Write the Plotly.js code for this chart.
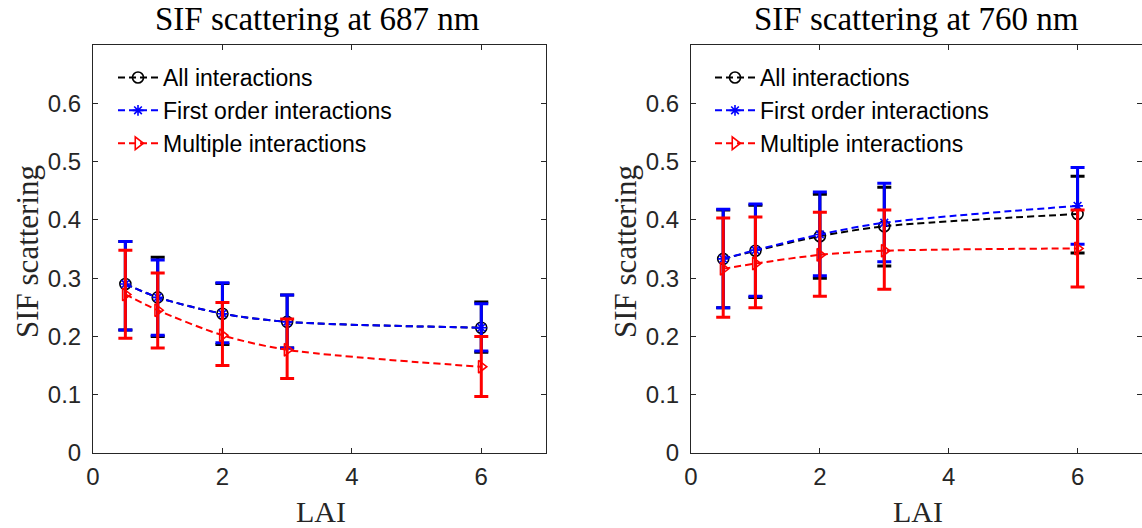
<!DOCTYPE html>
<html>
<head>
<meta charset="utf-8">
<script src="https://cdn.plot.ly/plotly-3.0.1.min.js"></script>
<style>html,body{margin:0;padding:0;background:#fff;}#chart{width:1142px;height:528px;}</style>
</head>
<body>
<div id="chart"></div>
<script>
// LAI values
const lai = [0.5, 1, 2, 3, 6];
const seriesNames = ['All interactions', 'First order interactions', 'Multiple interactions'];
const panelTitles = ['SIF scattering at 687 nm', 'SIF scattering at 760 nm'];
const xTitle = 'LAI';
const yTitle = 'SIF scattering';
const xTicks = [0, 2, 4, 6];
const yTicks = [0, 0.1, 0.2, 0.3, 0.4, 0.5, 0.6];

// 687 nm panel
const all687 = [0.290, 0.267, 0.239, 0.225, 0.215];
const all687Upper = [0.363, 0.336, 0.291, 0.271, 0.259];
const all687Lower = [0.211, 0.200, 0.186, 0.180, 0.173];
const first687 = [0.290, 0.267, 0.239, 0.225, 0.215];
const first687Upper = [0.363, 0.331, 0.292, 0.271, 0.256];
const first687Lower = [0.211, 0.202, 0.189, 0.180, 0.175];
const multi687 = [0.272, 0.245, 0.202, 0.177, 0.148];
const multi687Upper = [0.348, 0.309, 0.258, 0.230, 0.200];
const multi687Lower = [0.197, 0.180, 0.150, 0.128, 0.097];

// 760 nm panel
const all760 = [0.333, 0.347, 0.372, 0.389, 0.410];
const all760Upper = [0.417, 0.425, 0.444, 0.456, 0.475];
const all760Lower = [0.249, 0.267, 0.300, 0.321, 0.343];
const first760 = [0.333, 0.348, 0.375, 0.395, 0.424];
const first760Upper = [0.418, 0.427, 0.448, 0.463, 0.490];
const first760Lower = [0.249, 0.269, 0.304, 0.328, 0.358];
const multi760 = [0.316, 0.325, 0.340, 0.347, 0.351];
const multi760Upper = [0.403, 0.405, 0.413, 0.417, 0.417];
const multi760Lower = [0.233, 0.249, 0.269, 0.281, 0.285];

const colors = ['#000000', '#0000ff', '#ff0000'];
const symbols = ['circle-open', 'asterisk-open', 'triangle-right-open'];

function mk(name, idx, y, up, lo, xa, ya, leg) {
  return {
    type: 'scatter', mode: 'lines+markers', name: name,
    x: lai, y: y, xaxis: xa, yaxis: ya, legend: leg,
    line: {color: colors[idx], width: 2, dash: '7px,4px', shape: 'spline', smoothing: 0.8},
    marker: {symbol: symbols[idx], size: idx === 1 ? 9 : 11, color: colors[idx], line: {color: colors[idx], width: 1.6}},
    error_y: {type: 'data', symmetric: false,
      array: up.map((v, i) => v - y[i]), arrayminus: y.map((v, i) => v - lo[i]),
      color: colors[idx], thickness: 3, width: 7},
    legendgroup: leg + idx
  };
}

const data = [
  mk(seriesNames[0], 0, all687, all687Upper, all687Lower, 'x', 'y', 'legend'),
  mk(seriesNames[1], 1, first687, first687Upper, first687Lower, 'x', 'y', 'legend'),
  mk(seriesNames[2], 2, multi687, multi687Upper, multi687Lower, 'x', 'y', 'legend'),
  mk(seriesNames[0], 0, all760, all760Upper, all760Lower, 'x2', 'y2', 'legend2'),
  mk(seriesNames[1], 1, first760, first760Upper, first760Lower, 'x2', 'y2', 'legend2'),
  mk(seriesNames[2], 2, multi760, multi760Upper, multi760Lower, 'x2', 'y2', 'legend2')
];

const W = 1142, H = 528;
const axCommon = {
  showgrid: false, zeroline: false, ticks: 'inside', ticklen: 5, tickwidth: 1,
  tickcolor: '#262626', linecolor: '#262626', linewidth: 1, mirror: 'ticks', showline: true,
  tickfont: {family: 'Liberation Sans, Arial, sans-serif', size: 24, color: '#262626'}
};
const serif = 'Liberation Serif, Times New Roman, serif';
function xax(d) { return Object.assign({}, axCommon, {domain: d, range: [0, 7], tickvals: xTicks, ticklabelstandoff: 2}); }
function yax(anchor) { return Object.assign({}, axCommon, {domain: [(H - 453) / H, (H - 45) / H], range: [0, 0.7], tickvals: yTicks, anchor: anchor, ticklabelstandoff: 6}); }

const legCommon = {bgcolor: 'rgba(0,0,0,0)', borderwidth: 0, font: {family: 'Liberation Sans, Arial, sans-serif', size: 23, color: '#000'},
  xanchor: 'left', yanchor: 'top', tracegroupgap: 0, itemwidth: 40};

function ann(text, xpx, ypx, size, angle) {
  return {text: text, xref: 'paper', yref: 'paper', x: xpx / W, y: (H - ypx) / H, xanchor: 'center', yanchor: 'middle',
    showarrow: false, textangle: angle || 0, font: {family: serif, size: size, color: angle !== undefined || size < 32 ? '#262626' : '#000'}};
}

const layout = {
  width: W, height: H, margin: {l: 0, r: 0, t: 0, b: 0},
  paper_bgcolor: '#fff', plot_bgcolor: '#fff', showlegend: true,
  xaxis: Object.assign(xax([93 / W, 546 / W]), {anchor: 'y'}),
  yaxis: yax('x'),
  xaxis2: Object.assign(xax([691 / W, 1]), {anchor: 'y2'}),
  yaxis2: yax('x2'),
  legend: Object.assign({}, legCommon, {x: 113 / W, y: (H - 56) / H}),
  legend2: Object.assign({}, legCommon, {x: 710 / W, y: (H - 56) / H}),
  annotations: [
    ann(panelTitles[0], 317, 19, 33),
    ann(panelTitles[1], 916, 19, 33),
    ann(xTitle, 321, 511, 30),
    ann(xTitle, 918, 511, 30),
    ann(yTitle, 27, 252, 31, -90),
    ann(yTitle, 625, 252, 31, -90)
  ]
};

Plotly.newPlot('chart', data, layout, {displayModeBar: false, staticPlot: true});
</script>
</body>
</html>
